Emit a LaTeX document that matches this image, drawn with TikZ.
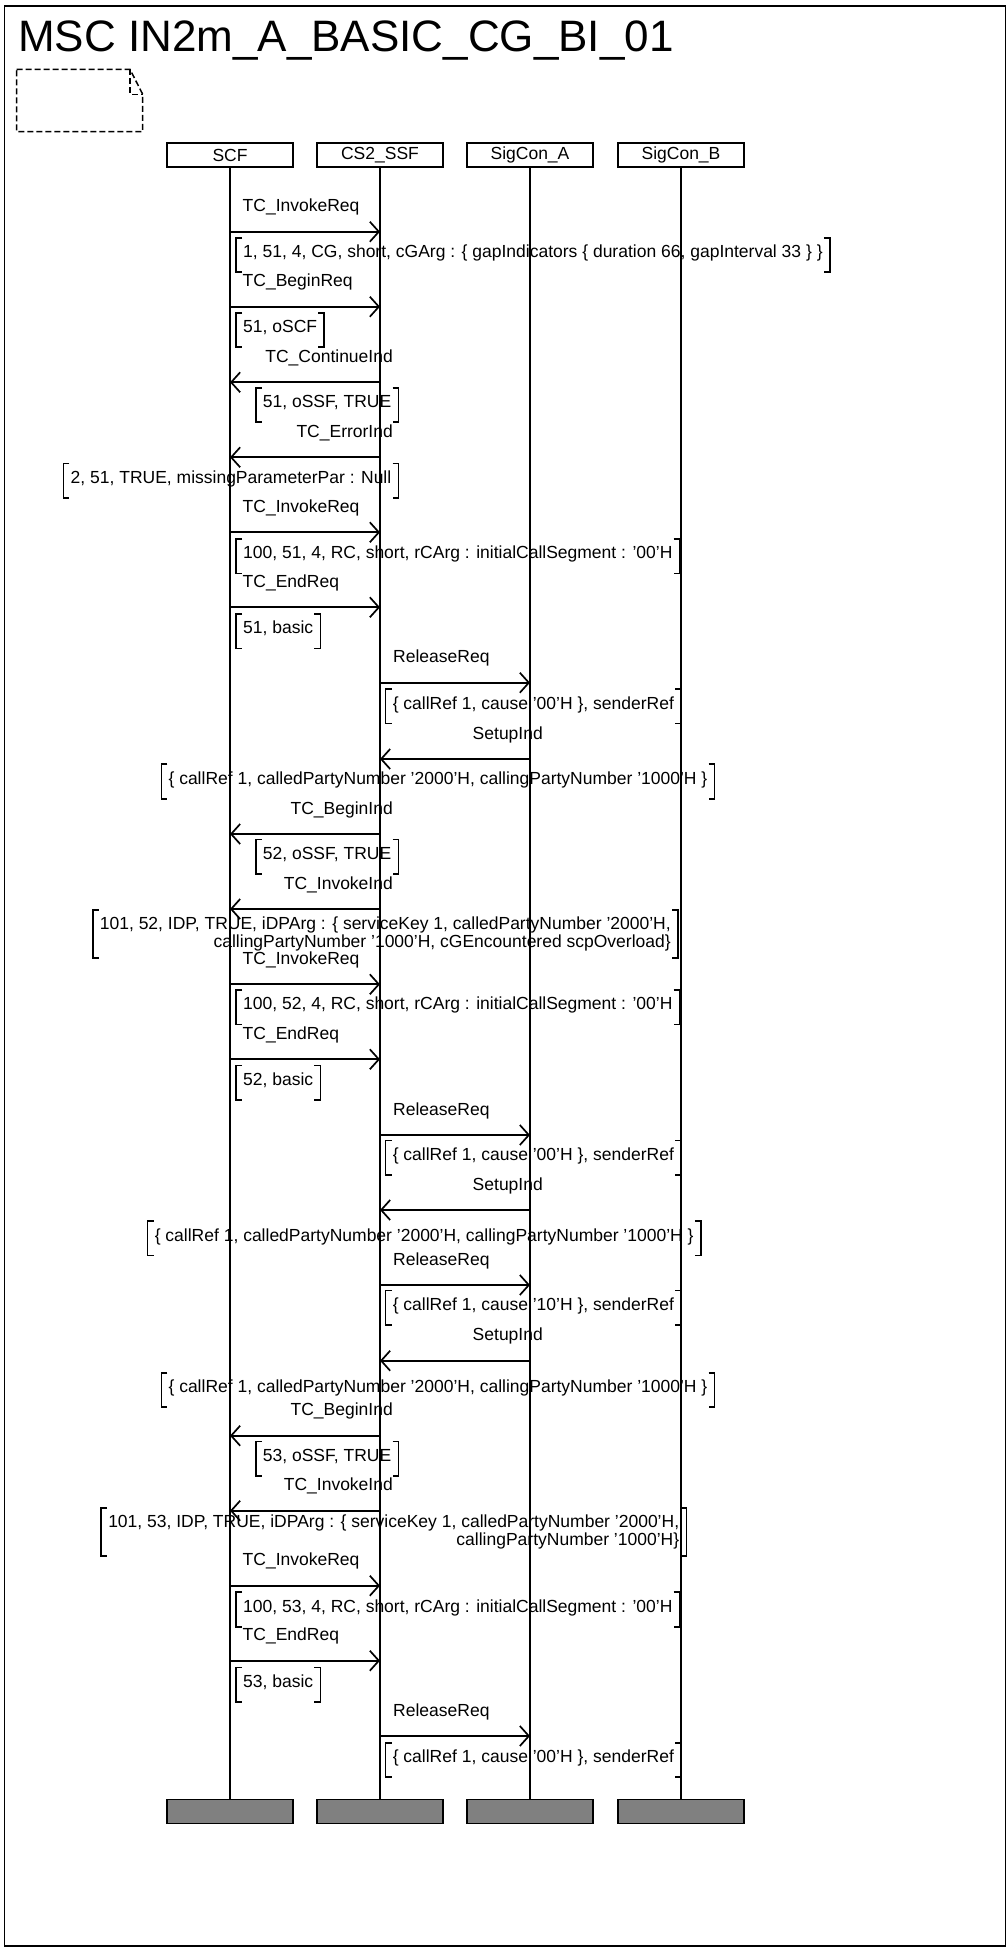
\documentclass[tikz,border=0pt]{standalone}
\usepackage{fontspec}
\setmainfont{Liberation Sans}
\usetikzlibrary{arrows.meta}
\definecolor{stopgray}{HTML}{808080}
\tikzstyle{instance} = [
    rectangle,
    minimum width=126pt,
    minimum height=24pt,
    inner sep=0pt,
    line width=1.3pt,
    draw=black
]
\tikzstyle{instanceend} = [
    instance,
    fill=stopgray
]
\tikzstyle{lifeline} = [line width=1.3pt]
\tikzstyle{arrow} = [line width=1.7pt,-{Straight Barb[length=9pt,width=20pt]}]
\tikzstyle{sendright} = [anchor=base west, inner sep=0pt]
\tikzstyle{sendleft} = [anchor=base east, inner sep=0pt]
\tikzstyle{parambox} = [
    inner xsep=7pt,
    inner ysep=0pt,
    append after command={\pgfextra{
        \draw [line width=1.7pt]
            ([xshift=6pt]\tikzlastnode.north west) -- (\tikzlastnode.north west)
            -- (\tikzlastnode.south west) -- ([xshift=6pt]\tikzlastnode.south west)
            ([xshift=-6pt]\tikzlastnode.north east) -- (\tikzlastnode.north east)
            -- (\tikzlastnode.south east) -- ([xshift=-6pt]\tikzlastnode.south east);
    }}
]
\tikzstyle{params} = [
    parambox,
    minimum height=34pt,
    text height=11.5pt,
    text depth=6pt
]
\tikzstyle{paramslong} = [
    parambox,
    minimum height=47.7pt,
    align=right
]
\tikzstyle{comment} = [line width=1.5pt, dash pattern=on 6pt off 3pt]

\begin{document}
\begin{tikzpicture}[x=1pt, y=-1pt, font=\fontsize{17.5}{18}\selectfont]

\useasboundingbox (0,0) rectangle (1008,1948);
\fill [white] (0,0) rectangle (1008,1948);
\draw [line width=1.3pt] (4.5,6) rectangle (1005.5,1946);

\node (title) [anchor=base west, inner sep=0pt, font=\fontsize{44}{50}\selectfont] at (18,51.7)
{MSC IN2m\_A\_BASIC\_CG\_BI\_01};

\draw [comment] (16.7,69.3) -- (130,69.3) -- (142.7,94.3) -- (142.7,131.7) -- (16.7,131.7) -- cycle;
\draw [comment] (130,69.3) -- (130,94.3) -- (142.7,94.3);

\node (scf) [instance] at (230,155) {SCF};
\node (ssf) [instance] at (380,155) {CS2\_SSF};
\node (siga) [instance] at (530,155) {SigCon\_A};
\node (sigb) [instance] at (681,155) {SigCon\_B};

\node (scfend) [instanceend] at (230,1811.3) {};
\node (ssfend) [instanceend] at (380,1811.3) {};
\node (sigaend) [instanceend] at (530,1811.3) {};
\node (sigbend) [instanceend] at (681,1811.3) {};

\draw [lifeline] (scf) -- (scfend);
\draw [lifeline] (ssf) -- (ssfend);
\draw [lifeline] (siga) -- (sigaend);
\draw [lifeline] (sigb) -- (sigbend);

\node (m1) [sendright] at (242.5,211.7) {TC\_InvokeReq};
\draw [arrow] (scf |- 0,231.7) -- (ssf |- 0,231.7);
\node (m1p) [params, anchor=west] at (236,255)
{1, 51, 4, CG, short, cGArg : \{ gapIndicators \{ duration 66, gapInterval 33 \} \}};

\node (m2) [sendright] at (242.5,286.7) {TC\_BeginReq};
\draw [arrow] (scf |- 0,306.7) -- (ssf |- 0,306.7);
\node (m2p) [params, anchor=west] at (236,330) {51, oSCF};

\node (m3) [sendleft] at (393,362.3) {TC\_ContinueInd};
\draw [arrow] (ssf |- 0,382.3) -- (scf |- 0,382.3);
\node (m3p) [params, anchor=east] at (398.5,405) {51, oSSF, TRUE};

\node (m4) [sendleft] at (393,437.3) {TC\_ErrorInd};
\draw [arrow] (ssf |- 0,457.3) -- (scf |- 0,457.3);
\node (m4p) [params, anchor=east] at (398.5,480.8) {2, 51, TRUE, missingParameterPar : Null};

\node (m5) [sendright] at (242.5,512.3) {TC\_InvokeReq};
\draw [arrow] (scf |- 0,532.3) -- (ssf |- 0,532.3);
\node (m5p) [params, anchor=west] at (236,556.2)
{100, 51, 4, RC, short, rCArg : initialCallSegment : '00'H};

\node (m6) [sendright] at (242.5,587.3) {TC\_EndReq};
\draw [arrow] (scf |- 0,607.3) -- (ssf |- 0,607.3);
\node (m6p) [params, anchor=west] at (236,631.2) {51, basic};

\node (m7) [sendright] at (393,662.7) {ReleaseReq};
\draw [arrow] (ssf |- 0,682.7) -- (siga |- 0,682.7);
\node (m7p) [params, anchor=west] at (385.6,706.3) {\{ callRef 1, cause '00'H \}, senderRef};

\node (m8) [sendleft] at (543,739) {SetupInd};
\draw [arrow] (siga |- 0,759) -- (ssf |- 0,759);
\node (m8p) [params] at (438,781.5)
{\{ callRef 1, calledPartyNumber '2000'H, callingPartyNumber '1000'H \}};

\node (m9) [sendleft] at (393,814) {TC\_BeginInd};
\draw [arrow] (ssf |- 0,834) -- (scf |- 0,834);
\node (m9p) [params, anchor=east] at (398.5,856.8) {52, oSSF, TRUE};

\node (m10) [sendleft] at (393,889) {TC\_InvokeInd};
\draw [arrow] (ssf |- 0,909) -- (scf |- 0,909);
\node (m10p) [paramslong, anchor=east] at (678,933.8)
{101, 52, IDP, TRUE, iDPArg : \{ serviceKey 1, calledPartyNumber '2000'H,\\
callingPartyNumber '1000'H, cGEncountered scpOverload\}};

\node (m11) [sendright] at (242.5,964.3) {TC\_InvokeReq};
\draw [arrow] (scf |- 0,984.3) -- (ssf |- 0,984.3);
\node (m11p) [params, anchor=west] at (236,1007.2)
{100, 52, 4, RC, short, rCArg : initialCallSegment : '00'H};

\node (m12) [sendright] at (242.5,1039.3) {TC\_EndReq};
\draw [arrow] (scf |- 0,1059.3) -- (ssf |- 0,1059.3);
\node (m12p) [params, anchor=west] at (236,1082.8) {52, basic};

\node (m13) [sendright] at (393,1115) {ReleaseReq};
\draw [arrow] (ssf |- 0,1135) -- (siga |- 0,1135);
\node (m13p) [params, anchor=west] at (385.6,1157.8) {\{ callRef 1, cause '00'H \}, senderRef};

\node (m14) [sendleft] at (543,1190) {SetupInd};
\draw [arrow] (siga |- 0,1210) -- (ssf |- 0,1210);
\node (m14p) [params] at (424.2,1238.3)
{\{ callRef 1, calledPartyNumber '2000'H, callingPartyNumber '1000'H \}};

\node (m15) [sendright] at (393,1265) {ReleaseReq};
\draw [arrow] (ssf |- 0,1285) -- (siga |- 0,1285);
\node (m15p) [params, anchor=west] at (385.6,1307.8) {\{ callRef 1, cause '10'H \}, senderRef};

\node (m16) [sendleft] at (543,1340.7) {SetupInd};
\draw [arrow] (siga |- 0,1360.7) -- (ssf |- 0,1360.7);
\node (m16p) [params] at (438,1390)
{\{ callRef 1, calledPartyNumber '2000'H, callingPartyNumber '1000'H \}};

\node (m17) [sendleft] at (393,1415.7) {TC\_BeginInd};
\draw [arrow] (ssf |- 0,1435.7) -- (scf |- 0,1435.7);
\node (m17p) [params, anchor=east] at (398.5,1458.7) {53, oSSF, TRUE};

\node (m18) [sendleft] at (393,1490.7) {TC\_InvokeInd};
\draw [arrow] (ssf |- 0,1510.7) -- (scf |- 0,1510.7);
\node (m18p) [paramslong, anchor=east] at (686.4,1532.2)
{101, 53, IDP, TRUE, iDPArg : \{ serviceKey 1, calledPartyNumber '2000'H,\\
callingPartyNumber '1000'H\}};

\node (m19) [sendright] at (242.5,1565.7) {TC\_InvokeReq};
\draw [arrow] (scf |- 0,1585.7) -- (ssf |- 0,1585.7);
\node (m19p) [params, anchor=west] at (236,1609.5)
{100, 53, 4, RC, short, rCArg : initialCallSegment : '00'H};

\node (m20) [sendright] at (242.5,1640.7) {TC\_EndReq};
\draw [arrow] (scf |- 0,1660.7) -- (ssf |- 0,1660.7);
\node (m20p) [params, anchor=west] at (236,1684.8) {53, basic};

\node (m21) [sendright] at (393,1716) {ReleaseReq};
\draw [arrow] (ssf |- 0,1736) -- (siga |- 0,1736);
\node (m21p) [params, anchor=west] at (385.6,1760) {\{ callRef 1, cause '00'H \}, senderRef};

\end{tikzpicture}
\end{document}
